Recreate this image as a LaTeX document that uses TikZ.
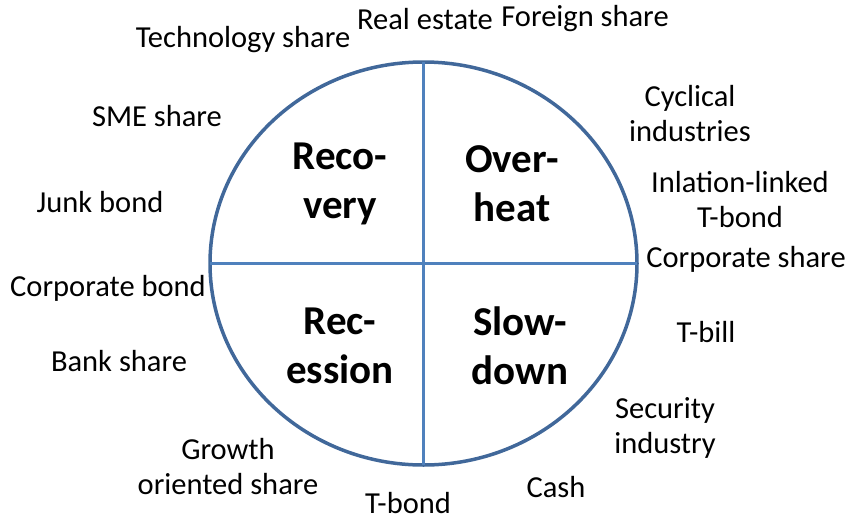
\documentclass[tikz,border=0pt]{standalone}
\usepackage{fontspec}
\setmainfont{Carlito}
\usetikzlibrary{shapes.geometric}
\definecolor{rimblue}{RGB}{65,104,154}
\definecolor{axisblue}{RGB}{79,129,189}
\begin{document}
\begin{tikzpicture}[x=1pt, y=-1pt,
        cycle/.style={ellipse, draw=rimblue, line width=3.5pt, inner sep=0pt, outer sep=0pt,
                      minimum width=427pt, minimum height=403pt},
        axis/.style={draw=axisblue, line width=3pt},
        phase/.style={align=center, font=\fontsize{41}{49}\selectfont\bfseries},
        asset/.style={align=center, font=\fontsize{30.5}{35}\selectfont}
    ]
        \useasboundingbox (0,0) rectangle (849,520);

        % Business cycle
        \node[cycle] (clock) at (423.5,263.5) {};
        \draw[axis] (clock.north) -- (clock.south);
        \draw[axis] (clock.west) -- (clock.east);

        \node[phase] (recovery) at (340,184) {Reco-\\very};
        \node[phase] (overheat) at (512,184) {Over-\\heat};
        \node[phase] (recession) at (340,346) {Rec-\\ession};
        \node[phase] (slowdown) at (520,346) {Slow-\\down};

        % Assets around the cycle
        \node[asset] (tech) at (243,40) {Technology share};
        \node[asset] (estate) at (425,19) {Real estate};
        \node[asset] (foreign) at (585,19) {Foreign share};
        \node[asset] (sme) at (157,116) {SME share};
        \node[asset] (junk) at (100,202) {Junk bond};
        \node[asset] (corpbond) at (108,288) {Corporate bond};
        \node[asset] (bank) at (119,361) {Bank share};
        \node[asset] (growth) at (228,467) {Growth\\oriented share};
        \node[asset] (tbond) at (408,503) {T-bond};
        \node[asset] (cash) at (556,487) {Cash};
        \node[asset] (security) at (665,428) {Security\\industry};
        \node[asset] (tbill) at (706,332) {T-bill};
        \node[asset] (corpshare) at (746,259) {Corporate share};
        \node[asset] (linked) at (740,200) {Inlation-linked\\T-bond};
        \node[asset] (cyclical) at (690,114) {Cyclical\\industries};
    \end{tikzpicture}
\end{document}
